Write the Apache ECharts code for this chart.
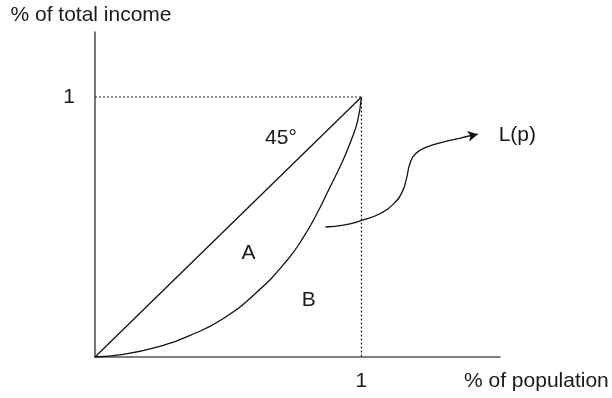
<!DOCTYPE html>
<html>
<head>
<meta charset="utf-8">
<script src="https://cdn.jsdelivr.net/npm/echarts@6/dist/echarts.min.js"></script>
<style>
html,body{margin:0;padding:0;background:#fff;}
#chart{width:612px;height:398px;}
</style>
</head>
<body>
<div id="chart"></div>
<script>
// Lorenz curve
const lorenzX = [0, 0.106, 0.232, 0.357, 0.482, 0.608, 0.721, 0.783, 0.833, 0.878, 0.93, 0.962, 0.985, 1];
const lorenzY = [0, 0.010, 0.038, 0.083, 0.148, 0.250, 0.372, 0.462, 0.552, 0.645, 0.755, 0.835, 0.905, 1];
// 45-degree line of equality
const equalityX = [0, 1];
const equalityY = [0, 1];
// dotted guide lines
const guideX = [0, 1, 1];
const guideY = [1, 1, 0];
// curvy pointer arrow toward the L(p) label
const arrowX = [0.865, 0.933, 1.003, 1.071, 1.121, 1.153, 1.169, 1.182, 1.203, 1.247, 1.309, 1.372, 1.403];
const arrowY = [0.500, 0.507, 0.526, 0.552, 0.590, 0.635, 0.686, 0.744, 0.782, 0.808, 0.827, 0.842, 0.850];
const arrowTip = [1.437, 0.857];
// tick labels
const xTickValues = [1];
const yTickValues = [1];
// annotations
const annoText = ['45°', 'A', 'B', 'L(p)'];
const annoX = [0.698, 0.576, 0.802, 1.585];
const annoY = [0.84, 0.398, 0.218, 0.853];

const zip = (a, b) => a.map((v, i) => [v, b[i]]);
const textColor = '#1a1a1a';
const fontFamily = 'Liberation Sans, Arial, sans-serif';
const fs = 21;

const chart = echarts.init(document.getElementById('chart'), null, {renderer: 'canvas'});
chart.setOption({
  animation: false,
  backgroundColor: '#fff',
  grid: {left: 95, right: 112, top: 32, bottom: 41},
  xAxis: {
    type: 'value', min: 0, max: 1.52, interval: 1,
    splitLine: {show: false},
    axisTick: {show: false},
    axisLine: {show: true, lineStyle: {color: '#555', width: 1.6}},
    axisLabel: {
      show: true, margin: 14, color: textColor, fontSize: fs, fontFamily,
      showMaxLabel: false,
      formatter: v => xTickValues.includes(v) ? String(v) : ''
    },
    name: '% of population',
    nameLocation: 'end',
    nameGap: -36,
    nameTextStyle: {color: textColor, fontSize: fs, fontFamily, align: 'left', verticalAlign: 'top', padding: [14, 0, 0, 0]}
  },
  yAxis: {
    type: 'value', min: 0, max: 1.25, interval: 1,
    splitLine: {show: false},
    axisTick: {show: false},
    axisLine: {show: true, lineStyle: {color: '#555', width: 1.6}},
    axisLabel: {
      show: true, margin: 20, color: textColor, fontSize: fs, fontFamily,
      showMaxLabel: false,
      formatter: v => yTickValues.includes(v) ? String(v) : ''
    },
    name: '% of total income',
    nameLocation: 'end',
    nameGap: 6,
    nameTextStyle: {color: textColor, fontSize: fs, fontFamily, align: 'center', padding: [0, 8, 0, 0]}
  },
  series: [
    {
      type: 'line', data: zip(guideX, guideY), symbol: 'none', silent: true,
      lineStyle: {color: '#222', width: 1.2, type: [2, 2]}
    },
    {
      type: 'line', data: zip(equalityX, equalityY), symbol: 'none', silent: true,
      lineStyle: {color: '#111', width: 1.3}
    },
    {
      type: 'line', data: zip(lorenzX, lorenzY), symbol: 'none', smooth: 0.5, silent: true,
      lineStyle: {color: '#111', width: 1.3}
    },
    {
      type: 'line', data: zip(arrowX, arrowY), symbol: 'none', smooth: 0.5, silent: true,
      lineStyle: {color: '#111', width: 1.3},
      markLine: {
        silent: true, animation: false,
        symbol: ['none', 'arrow'], symbolSize: [8, 10],
        label: {show: false},
        lineStyle: {color: '#111', width: 1.3, type: 'solid'},
        data: [[{coord: [arrowX[arrowX.length - 1], arrowY[arrowY.length - 1]]}, {coord: arrowTip}]]
      }
    },
    {
      type: 'scatter', clip: false, silent: true, symbolSize: 0,
      itemStyle: {opacity: 1},
      data: annoText.map((t, i) => ({value: [annoX[i], annoY[i]], name: t})),
      label: {
        show: true, position: 'inside', formatter: p => p.name,
        color: textColor, fontSize: fs, fontFamily, opacity: 1
      }
    }
  ]
});
</script>
</body>
</html>
